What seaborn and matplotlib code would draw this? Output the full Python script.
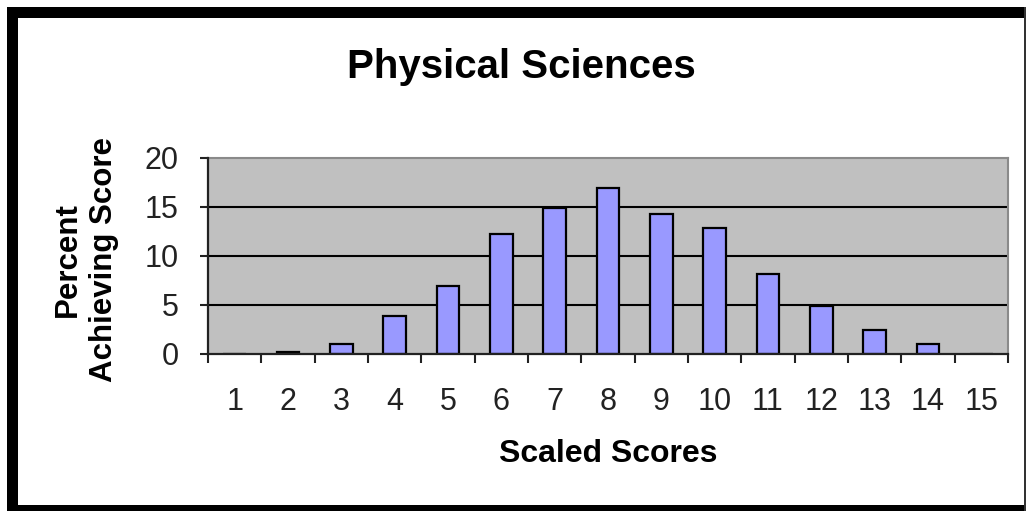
import matplotlib
matplotlib.use("Agg")
import matplotlib.pyplot as plt
import seaborn as sns
import pandas as pd
from matplotlib.patches import Rectangle

# Scores and percent achieving each score
scores = [str(i) for i in range(1, 16)]
percent = [0, 0.2, 1.0, 3.8, 6.9, 12.2, 14.9, 16.9, 14.3, 12.85, 8.1, 4.9, 2.4, 1.0, 0]
y_ticks = [0, 5, 10, 15, 20]

df = pd.DataFrame({"score": scores, "percent": percent})

sns.set_theme(style="white")
plt.rcParams['font.family'] = ['Liberation Sans', 'DejaVu Sans']

W, H = 1026, 511
fig = plt.figure(figsize=(W / 100, H / 100), dpi=100)
fig.patch.set_facecolor("white")

# axes placed from pixel positions in the reference
left, right, top, bottom = 208, 1008, 158, 353.5
ax = fig.add_axes([left / W, 1 - bottom / H, (right - left) / W, (bottom - top) / H])
ax.set_facecolor("#C0C0C0")

sns.barplot(data=df, x="score", y="percent", order=scores, color="#9999FF",
            saturation=1, edgecolor="black", linewidth=1.6, width=0.42, ax=ax, zorder=3)

ax.set_xlim(-0.5, 14.5)
ax.set_ylim(0, 20)
ax.set_yticks(y_ticks)
ax.set_yticklabels([str(v) for v in y_ticks])
for v in y_ticks[1:-1]:
    ax.axhline(v, color="black", lw=1.5, zorder=2)

# category labels between boundary tick marks
ax.set_xticks([i - 0.5 for i in range(16)])
ax.set_xticklabels([])
ax.set_xticks(range(15), minor=True)
ax.set_xticklabels(scores, minor=True)
ax.tick_params(axis="x", which="major", direction="out", length=6.5, width=1.5,
               color="#222222", bottom=True)
ax.tick_params(axis="x", which="minor", length=0, labelsize=22, pad=24,
               labelcolor="#222222")
ax.tick_params(axis="y", direction="out", length=6, width=1.5, color="#222222",
               left=True, labelsize=22, pad=15, labelcolor="#222222")

for side in ["left", "bottom"]:
    ax.spines[side].set_color("#222222")
    ax.spines[side].set_linewidth(1.6)
    ax.spines[side].set_zorder(4)
for side in ["top", "right"]:
    ax.spines[side].set_color("#8a8a8a")
    ax.spines[side].set_linewidth(1.5)

ax.set_xlabel("")
ax.set_ylabel("")

fig.text(521 / W, 1 - 67 / H, "Physical Sciences", ha="center", va="center",
         fontsize=29, fontweight="bold", color="black")
fig.text(608 / W, 1 - 454 / H, "Scaled Scores", ha="center", va="center",
         fontsize=23, fontweight="bold", color="black")
fig.text(86 / W, 1 - 260 / H, "Percent\nAchieving Score", ha="center", va="center",
         rotation=90, multialignment="center", linespacing=1.25,
         fontsize=22.5, fontweight="bold", color="black")

# black frame of the screenshot
def px_rect(x0, y0, x1, y1, color):
    fig.patches.append(Rectangle((x0 / W, 1 - y1 / H), (x1 - x0) / W, (y1 - y0) / H,
                                 transform=fig.transFigure, facecolor=color,
                                 edgecolor="none", zorder=10))

px_rect(7, 7, W, 18, "black")
px_rect(7, 7, 18, H, "black")
px_rect(7, 505, W, H, "black")
px_rect(1023.5, 7, 1026, H, "#333333")

fig.savefig("out.png", dpi=100)
